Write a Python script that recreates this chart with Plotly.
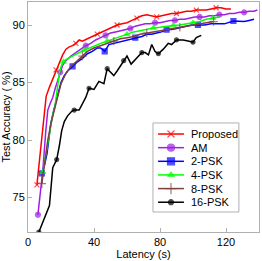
import plotly.graph_objects as go

# ---- data ----
prop_x = [5.4, 7, 8.5, 10, 11, 13, 15, 17, 19, 21, 23, 25, 27, 29, 31, 33, 36, 39, 42, 45, 48, 51, 54, 57, 60,
          63, 66, 69, 72, 75, 78, 81, 84, 87, 90, 93, 96, 99, 102, 105, 108, 111, 114, 117, 120, 123]
prop_y = [76.1, 78.2, 80.5, 82.5, 83.8, 84.6, 85.3, 86.1, 86.8, 87.4, 87.9, 88.1, 88.2, 88.4, 88.7, 88.6, 88.8,
          89.0, 89.2, 89.4, 89.6, 89.8, 90.0, 90.1, 90.2, 90.4, 90.6, 90.8, 90.9, 90.8, 90.7, 90.8, 90.9, 91.0,
          91.0, 91.1, 91.2, 91.2, 91.3, 91.3, 91.3, 91.4, 91.5, 91.5, 91.4, 91.4]

am_x = [6, 7.5, 9, 10.8, 12, 13.5, 15, 16.5, 18, 19.5, 21, 23, 26, 29, 32, 35, 38, 41, 44, 47, 50, 53, 56, 59,
        62, 65, 68, 71, 74, 77, 80, 83, 86, 89, 92, 95, 98, 101, 104, 107, 110, 113, 116, 119, 122, 125, 128,
        131, 134, 137, 139]
am_y = [73.5, 75.5, 77.4, 80.8, 82.6, 83.2, 83.7, 84.5, 85.2, 85.9, 86.5, 86.9, 87.3, 87.6, 87.9, 88.2, 88.4,
        88.7, 88.9, 89.1, 89.3, 89.4, 89.5, 89.6, 89.7, 89.9, 90.0, 90.1, 90.1, 90.2, 90.2, 90.3, 90.4, 90.4,
        90.5, 90.5, 90.6, 90.7, 90.7, 90.7, 90.8, 90.8, 90.9, 90.9, 91.0, 91.0, 91.1, 91.1, 91.2, 91.2, 91.3]

psk2_x = [8.4, 10, 11.5, 12.6, 13.8, 15.6, 17, 18.5, 20, 22, 24, 27, 30, 33, 36, 39, 42, 44, 46.5, 49, 52, 56,
          60, 65, 69, 72, 75, 78, 81, 84, 87, 90, 93, 96, 99, 103, 107, 111, 115, 119, 124.5, 128, 131, 134, 137]
psk2_y = [77.1, 77.8, 78.8, 80.3, 81.4, 82.6, 83.3, 84.2, 85.0, 85.6, 86.0, 86.4, 86.8, 87.1, 87.5, 87.7, 88.0,
          88.0, 87.7, 88.3, 88.4, 88.6, 88.7, 88.9, 89.0, 89.2, 89.2, 89.3, 89.4, 89.6, 89.6, 89.7, 89.8, 89.9,
          90.0, 90.0, 90.0, 90.1, 90.1, 90.1, 90.35, 90.3, 90.3, 90.4, 90.5]

psk4_x = [9, 10.5, 12, 14, 15, 16.2, 17, 18, 19, 20, 21.5, 23, 25.5, 28, 31, 34, 37, 40, 44, 48, 52, 56, 60, 64,
          68, 72, 76, 80, 84, 88, 92, 96, 100, 104, 108, 112, 116]
psk4_y = [77.2, 78.5, 80.0, 81.5, 82.2, 82.8, 83.8, 85.0, 85.8, 86.4, 86.8, 87.0, 87.2, 87.4, 87.6, 87.8, 88.0,
          88.2, 88.4, 88.6, 88.8, 89.0, 89.2, 89.4, 89.5, 89.65, 89.75, 89.8, 89.9, 89.95, 90.0, 90.1, 90.2,
          90.3, 90.5, 90.6, 90.7]

psk8_x = [8.4, 10, 12, 14, 16, 18, 20, 23, 26, 30, 33, 36, 40, 44, 48, 52, 56, 60, 64, 68, 72, 76, 80, 84, 88,
          92, 96, 100, 104, 108, 112.5]
psk8_y = [76.2, 78.0, 80.0, 81.5, 82.7, 83.9, 84.9, 85.8, 86.4, 86.9, 87.3, 87.7, 88.0, 88.2, 88.4, 88.6, 88.8,
          88.9, 89.0, 89.2, 89.3, 89.45, 89.55, 89.65, 89.7, 89.8, 89.9, 90.0, 90.1, 90.2, 90.3]

psk16_x = [6.6, 10, 13, 15, 17.4, 19, 20.4, 22, 24, 26.5, 28, 31, 33, 35, 37, 40, 43, 46, 48, 50, 52, 54, 56.5,
           58, 60, 62.5, 65, 67, 69, 71, 73, 75, 77, 79, 82, 85, 87, 90, 94, 97, 100, 102, 105]
psk16_y = [72.0, 73.2, 74.3, 77.6, 78.3, 79.5, 80.8, 81.6, 82.1, 82.5, 82.6, 82.6, 83.2, 83.7, 84.5, 84.4, 85.1,
           84.9, 86.2, 85.9, 85.6, 86.0, 86.5, 86.9, 87.3, 86.6, 87.0, 87.3, 87.6, 87.6, 87.4, 88.3, 87.7, 87.5,
           87.9, 88.4, 88.3, 88.7, 88.7, 88.6, 88.5, 88.9, 89.1]

# indices of points that carry a marker
prop_mk = [0, 7, 13, 18, 22, 26, 30, 34, 38, 42]
am_mk = [0, 9, 15, 19, 24, 29, 33, 38, 42, 47]
psk2_mk = [0, 11, 18, 23, 29, 35, 40]
psk4_mk = [0, 10, 15, 19, 22, 26, 29, 32, 35]
psk8_mk = [0, 10, 15, 20, 25, 30]
psk16_mk = [0, 4, 10, 14, 18, 23, 28, 33, 37, 40]

series_names = ["Proposed", "AM", "2-PSK", "4-PSK", "8-PSK", "16-PSK"]
x_ticks = [0, 40, 80, 120]
y_ticks = [75, 80, 85, 90]

FONT = "Arial, Liberation Sans, Helvetica, sans-serif"

styles = [
    ("#ff0000", "x-thin-open", 5, 7),
    ("#a020e0", "circle", 5, 7),
    ("#0000ff", "square", 5, 7),
    ("#00ff00", "triangle-up", 5, 6),
    ("#7f4040", "cross-thin-open", 6, 8),
    ("#000000", "circle", 4, 5),
]
data = [(prop_x, prop_y, prop_mk), (am_x, am_y, am_mk), (psk2_x, psk2_y, psk2_mk),
        (psk4_x, psk4_y, psk4_mk), (psk8_x, psk8_y, psk8_mk), (psk16_x, psk16_y, psk16_mk)]

fig = go.Figure()
for name, (xs, ys, mk), (color, sym, sz, _) in zip(series_names, data, styles):
    sizes = [sz if i in mk else 0 for i in range(len(xs))]
    fig.add_trace(go.Scatter(
        x=xs, y=ys, name=name, mode="lines+markers", showlegend=False,
        line=dict(color=color, width=1.5),
        marker=dict(symbol=sym, size=sizes, color=color, line=dict(color=color, width=1.2)),
    ))

# ---- compact legend drawn on an overlay axis (0..1 box coordinates) ----
LEG = dict(x0=0.541, x1=0.913, y0=0.087, y1=0.474)
row_top, row_step = 0.426, 0.0593
for k, (name, (color, sym, _, lsz)) in enumerate(zip(series_names, styles)):
    yy = row_top - k * row_step
    fig.add_trace(go.Scatter(
        x=[0.563, 0.619, 0.675], y=[yy, yy, yy], mode="lines+markers", showlegend=False,
        xaxis="x2", yaxis="y2", hoverinfo="skip",
        line=dict(color=color, width=1.5),
        marker=dict(symbol=sym, size=[0, lsz, 0], color=color, line=dict(color=color, width=1.2)),
    ))
    fig.add_annotation(x=0.697, y=yy, xref="x2", yref="y2", text=name, showarrow=False,
                       xanchor="left", yanchor="middle", font=dict(family=FONT, size=11, color="#000"))
fig.add_shape(type="rect", xref="x2", yref="y2", x0=LEG["x0"], x1=LEG["x1"], y0=LEG["y0"], y1=LEG["y1"],
              line=dict(color="#b0b0b0", width=1), fillcolor="white", layer="below")

axis_common = dict(
    showgrid=False, zeroline=False, showline=True, mirror=True, automargin=False,
    linecolor="#b0b0b0", linewidth=1, ticks="inside", ticklen=4, tickcolor="#b0b0b0",
    tickfont=dict(family=FONT, size=11, color="#000"),
)
fig.update_xaxes(range=[0, 140], tickvals=x_ticks, title=dict(text="Latency (s)", standoff=2,
                 font=dict(family=FONT, size=11, color="#000")), **axis_common)
fig.update_yaxes(range=[72, 92], tickvals=y_ticks, title=dict(text="Test Accuracy ( %)", standoff=0,
                 font=dict(family=FONT, size=11, color="#000")), **axis_common)

fig.update_layout(
    width=262, height=261,
    margin=dict(l=28, r=3, t=2, b=29),
    paper_bgcolor="white", plot_bgcolor="white",
    font=dict(family=FONT, size=11, color="#000"),
    xaxis2=dict(overlaying="x", range=[0, 1], visible=False, fixedrange=True),
    yaxis2=dict(overlaying="y", range=[0, 1], visible=False, fixedrange=True),
    showlegend=False,
)

fig.write_html("out.html", config={"displayModeBar": False},
               post_script="document.body.style.margin='0';document.body.style.overflow='hidden';")
